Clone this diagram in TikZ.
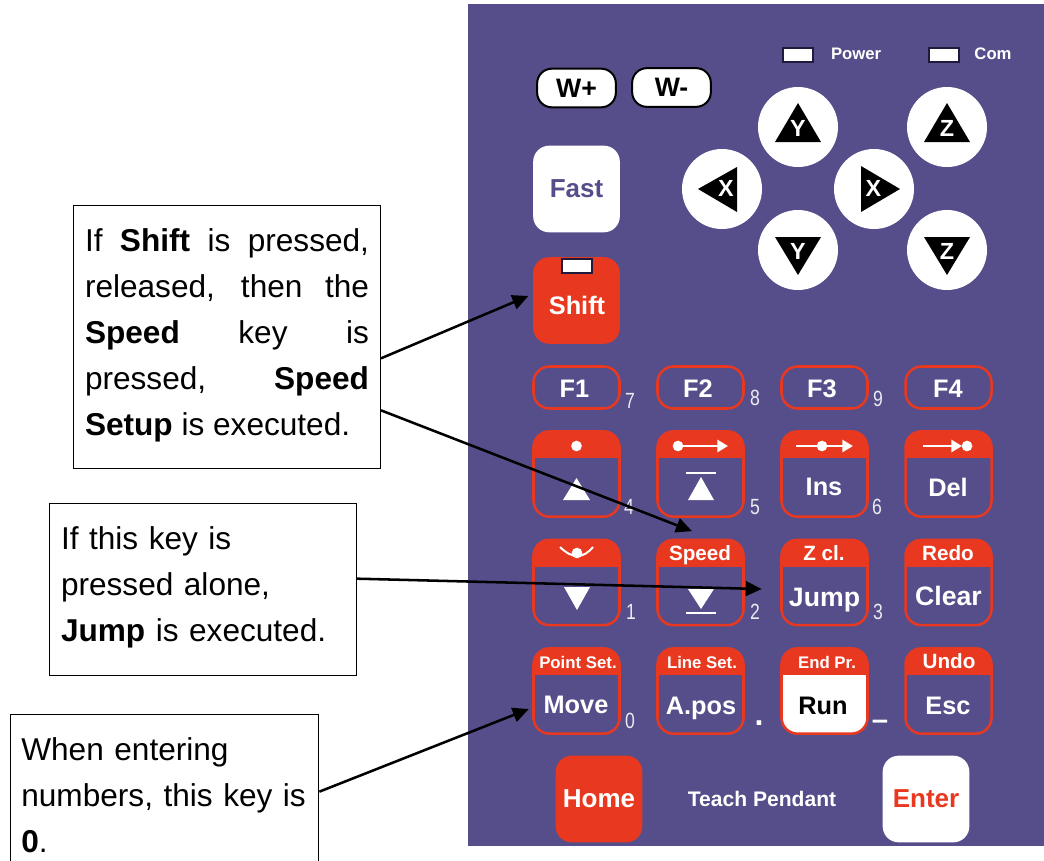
\documentclass[tikz,border=0pt]{standalone}
\usepackage{fontspec}
\setmainfont{Liberation Sans}
\newfontfamily\digitfont[FakeStretch=0.8]{Liberation Sans}
\usetikzlibrary{arrows.meta}
\definecolor{panelblue}{HTML}{554E8A}
\definecolor{keyred}{HTML}{E8381F}
\definecolor{leddark}{HTML}{1E1B3C}
\tikzset{
	note/.style={draw, line width=1pt, fill=white, anchor=north west, inner xsep=8.5pt, inner ysep=0pt, font=\fontsize{23.7}{34.5}\selectfont},
	pointer/.style={-{Triangle[length=12pt, width=11pt]}, line width=1.9pt},
	framekey/.style={draw=keyred, line width=1.9pt, rounded corners=12pt, minimum width=64.5pt, minimum height=64pt, inner sep=0pt},
	fkey/.style={framekey, minimum height=31.5pt},
	headkey/.style={framekey, path picture={\fill[keyred, sharp corners] (path picture bounding box.north west) rectangle ([yshift=-20pt]path picture bounding box.north east);}},
	bigkey/.style={rounded corners=12pt, minimum width=65pt, minimum height=65pt, inner sep=0pt, font=\fontsize{19.5}{20}\bfseries},
	wkey/.style={draw=black, fill=white, line width=1.5pt, rounded corners=11pt, minimum width=59pt, minimum height=29pt, inner sep=0pt, font=\fontsize{20}{20}\bfseries},
	led/.style={draw=leddark, fill=white, line width=1.5pt, minimum width=23pt, minimum height=10.5pt, inner sep=0pt},
	axiskey/.style={circle, fill=white, minimum size=60pt, inner sep=0pt},
	axisname/.style={white, inner sep=0pt, font=\fontsize{17.5}{18}\bfseries},
	toplabel/.style={white, inner sep=0pt, text height=11.2pt, text depth=0pt, font=\fontsize{15.5}{16}\bfseries},
	smalllabel/.style={white, inner sep=0pt, text height=9pt, text depth=0pt, font=\fontsize{12.6}{13}\bfseries},
	keylabel/.style={white, inner sep=0pt, text height=13.7pt, text depth=0pt, font=\fontsize{19}{20}\bfseries},
	numlabel/.style={text=white!88!panelblue, inner sep=0pt, text height=11.8pt, text depth=0pt, font=\digitfont\fontsize{16.5}{17}\selectfont},
	panellabel/.style={white, inner sep=0pt, font=\fontsize{12.5}{13}\bfseries}
}
\begin{document}
\begin{tikzpicture}[x=0.75pt, y=-0.75pt]
	\clip (0,0) rectangle (1044,860);
	\node[fill=panelblue, minimum width=432pt, minimum height=631.5pt, inner sep=0pt] (panel) at (756,425) {};

	% top of the panel
	\node[led] (ledPower) at (798,55) {};
	\node[led] (ledCom) at (944,55) {};
	\node[panellabel] (textPower) at (856,54) {Power};
	\node[panellabel] (textCom) at (993,54) {Com};
	\node[wkey] (keyWplus) at (576.5,88) {W+};
	\node[wkey] (keyWminus) at (671.5,87.5) {W-};
	\node[bigkey, fill=white, text=panelblue] (keyFast) at (576.5,189) {Fast};
	\node[bigkey, fill=keyred] (keyShift) at (576.5,300.5) {};
	\node[led, minimum height=11pt] (ledShift) at (577,266) {};
	\node[keylabel] (textShift) at (577,305) {Shift};

	% axis keys
	\node[axiskey] (keyYup) at (798,127) {};
	\node[axiskey] (keyZup) at (947,127) {};
	\node[axiskey] (keyXleft) at (722,189) {};
	\node[axiskey] (keyXright) at (874,189) {};
	\node[axiskey] (keyYdown) at (798,250) {};
	\node[axiskey] (keyZdown) at (947,250) {};
	\fill (798,103) -- (821,142) -- (775,142) -- cycle;
	\fill (947,103) -- (970,142) -- (924,142) -- cycle;
	\fill (698,189) -- (737,167) -- (737,212) -- cycle;
	\fill (900,189) -- (861,166) -- (861,212) -- cycle;
	\fill (798,275) -- (821,237) -- (775,237) -- cycle;
	\fill (947,275) -- (970,237) -- (924,237) -- cycle;
	\node[axisname] (nameYup) at (798,128) {Y};
	\node[axisname] (nameZup) at (947,128) {Z};
	\node[axisname] (nameXleft) at (726,188) {X};
	\node[axisname] (nameXright) at (873.5,188) {X};
	\node[axisname] (nameYdown) at (798,251) {Y};
	\node[axisname] (nameZdown) at (947,251) {Z};

	% function keys
	\node[fkey] (keyFone) at (576.5,387.5) {};
	\node[fkey] (keyFtwo) at (700.5,387.5) {};
	\node[fkey] (keyFthree) at (824.5,387.5) {};
	\node[fkey] (keyFfour) at (948.5,387.5) {};
	\node[keylabel] (textFone) at (574.5,388) {F1};
	\node[keylabel] (textFtwo) at (698,388) {F2};
	\node[keylabel] (textFthree) at (822,388) {F3};
	\node[keylabel] (textFfour) at (948,388) {F4};

	% second row
	\node[headkey] (keyUp) at (576.5,474) {};
	\node[headkey] (keyTop) at (700.5,474) {};
	\node[headkey] (keyIns) at (824.5,474) {};
	\node[headkey] (keyDel) at (948.5,474) {};
	\fill[white] (576.5,446) circle (4pt);
	\fill[white] (678,446) circle (4pt);
	\draw[white, line width=2pt, -{Triangle[length=8pt, width=9pt]}] (678,446) -- (728,446);
	\fill[white] (822,446) circle (4pt);
	\draw[white, line width=2pt, -{Triangle[length=8pt, width=9pt]}] (796,446) -- (853,446);
	\fill[white] (967,446) circle (4pt);
	\draw[white, line width=2pt, -{Triangle[length=8pt, width=9pt]}] (923,446) -- (962,446);
	\fill[white] (576.5,478) -- (590,500) -- (563,500) -- cycle;
	\fill[white] (701,477) -- (714,500) -- (688,500) -- cycle;
	\draw[white, line width=1.2pt] (686,473) -- (716,473);
	\node[keylabel] (textIns) at (824,486) {Ins};
	\node[keylabel] (textDel) at (948,487) {Del};

	% third row
	\node[headkey] (keyDown) at (576.5,582.5) {};
	\node[headkey] (keySpeed) at (700.5,582.5) {};
	\node[headkey] (keyJump) at (824.5,582.5) {};
	\node[headkey] (keyClear) at (948.5,582.5) {};
	\fill[white] (577,553) circle (4pt);
	\draw[white, line width=1.5pt] (560,547) .. controls (566,553) and (572,556) .. (577,556) .. controls (583,556) and (588,553) .. (593,547);
	\node[toplabel] (textSpeed) at (700,553) {Speed};
	\node[toplabel] (textZcl) at (824,553) {Z cl.};
	\node[toplabel] (textRedo) at (948,553) {Redo};
	\fill[white] (564,587) -- (590,587) -- (577,610) -- cycle;
	\fill[white] (688,589) -- (714,589) -- (701,609) -- cycle;
	\draw[white, line width=1.2pt] (686,613) -- (716,613);
	\node[keylabel, font=\fontsize{20}{20}\bfseries] (textJump) at (824.5,597) {Jump};
	\node[keylabel, font=\fontsize{20}{20}\bfseries] (textClear) at (948.5,596) {Clear};

	% fourth row
	\node[headkey] (keyMove) at (576.5,691) {};
	\node[headkey] (keyApos) at (700.5,691) {};
	\node[headkey, fill=white] (keyRun) at (824.5,691) {};
	\node[headkey] (keyEsc) at (948.5,691) {};
	\node[smalllabel] (textPoint) at (578,662) {Point Set.};
	\node[smalllabel] (textLine) at (702,662) {Line Set.};
	\node[smalllabel] (textEnd) at (827,662) {End Pr.};
	\node[toplabel] (textUndo) at (949,661) {Undo};
	\node[keylabel] (textMove) at (576,704) {Move};
	\node[keylabel] (textApos) at (701,705) {A.pos};
	\node[keylabel, text=black] (textRun) at (823,705) {Run};
	\node[keylabel] (textEsc) at (948,705) {Esc};

	% digits beside the keys
	\node[numlabel] (numSeven) at (630,401) {7};
	\node[numlabel] (numEight) at (755,398) {8};
	\node[numlabel] (numNine) at (878,399) {9};
	\node[numlabel] (numFour) at (629,507) {4};
	\node[numlabel] (numFive) at (755,507) {5};
	\node[numlabel] (numSix) at (877,507) {6};
	\node[numlabel] (numOne) at (631,612) {1};
	\node[numlabel] (numTwo) at (755,612) {2};
	\node[numlabel] (numThree) at (878,612) {3};
	\node[numlabel] (numZero) at (630,721) {0};
	\node[keylabel, text height=3pt, font=\fontsize{24}{24}\bfseries] (numPoint) at (759,723) {.};
	\node[keylabel, text height=5pt, font=\fontsize{22}{22}\bfseries] (numDash) at (880,726) {--};

	% bottom keys
	\node[bigkey, fill=keyred, text=white] (keyHome) at (599,799) {Home};
	\node[bigkey, fill=white, text=keyred] (keyEnter) at (926,799) {Enter};
	\node[white, inner sep=0pt, font=\fontsize{15.8}{16}\bfseries] (textPendant) at (762,799) {Teach Pendant};

	% notes
	\node[note, text width=213pt, minimum height=197pt, align=justify] (noteShift) at (73,205) {If \textbf{Shift} is pressed,\linebreak released, then the\linebreak \textbf{Speed} key is\linebreak pressed, \textbf{Speed}\linebreak \textbf{Setup} is executed.\par\vskip3pt\hrule height 0pt width 0pt};
	\node[note, text width=213pt, minimum height=129pt, align=left] (noteJump) at (49,503) {If this key is\\pressed alone,\\\textbf{Jump} is executed.\par\vskip4pt\hrule height 0pt width 0pt};
	\node[note, inner xsep=8pt, text width=215pt, minimum height=121.5pt, align=left] (noteMove) at (10,714) {When entering\\numbers, this key is\\\textbf{0}.};

	\draw[pointer] ([yshift=-16pt]noteShift.east) -- ([xshift=-3.4pt, yshift=3.4pt]keyShift.west);
	\draw[pointer] ([yshift=-55pt]noteShift.east) -- ([xshift=-6.4pt, yshift=5.6pt]keySpeed.north);
	\draw[pointer] ([yshift=8.25pt]noteJump.east) -- ([xshift=-13.9pt, yshift=-4.9pt]keyJump.west);
	\draw[pointer] ([yshift=3pt]noteMove.east) -- ([xshift=-2.6pt, yshift=-13.5pt]keyMove.west);
\end{tikzpicture}
\end{document}
